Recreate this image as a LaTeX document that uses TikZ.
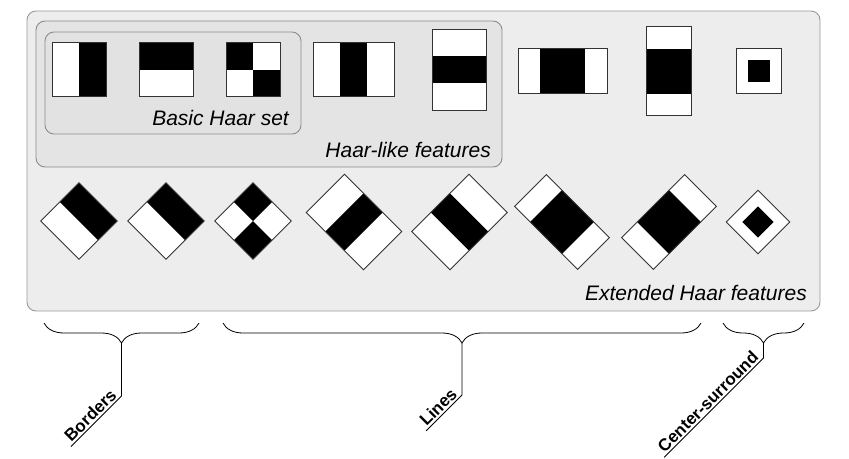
\documentclass[tikz,border=0pt]{standalone}
\usepackage{fontspec}
\setmainfont{Liberation Sans}
\usepackage{tikz}
\usepackage{xcolor}
\usetikzlibrary{decorations.pathreplacing}

\definecolor{outerbg}{HTML}{EDEDED}
\definecolor{outerln}{HTML}{9A9A9A}
\definecolor{haarbg}{HTML}{E4E4E4}
\definecolor{basicbg}{HTML}{E2E2E2}
\definecolor{boxln}{HTML}{8C8C8C}

\tikzset{
  panel/.style={rounded corners=9pt, line width=0.9pt},
  featline/.style={draw=black!80, line width=0.9pt},
  caption/.style={font=\fontsize{21}{25}\selectfont\itshape, inner sep=0pt},
  grouplabel/.style={font=\fontsize{17}{20}\selectfont\bfseries, rotate=45,
    inner xsep=3pt, inner ysep=2pt},
  groupbrace/.style={decorate, decoration={brace, mirror, amplitude=20pt},
    line width=0.8pt}
}

% white half left, black half right
\newcommand{\edgefeat}{
  \fill[white] (-27,-27) rectangle (27,27);
  \fill[black] (0,-27) rectangle (27,27);
  \draw[featline] (-27,-27) rectangle (27,27);
}
% four squares, black top left and bottom right
\newcommand{\checkfeat}{
  \fill[white] (-27,-27) rectangle (27,27);
  \fill[black] (-27,-27) rectangle (0,0);
  \fill[black] (0,0) rectangle (27,27);
  \draw[featline] (-27,-27) rectangle (27,27);
}
% three stripes: half width, half height, half black width
\newcommand{\linefeat}[3]{
  \fill[white] (-#1,-#2) rectangle (#1,#2);
  \fill[black] (-#3,-#2) rectangle (#3,#2);
  \draw[featline] (-#1,-#2) rectangle (#1,#2);
}
% black square in a white square
\newcommand{\centerfeat}{
  \fill[white] (-22.5,-22.5) rectangle (22.5,22.5);
  \fill[black] (-11,-11) rectangle (11,11);
  \draw[featline] (-22.5,-22.5) rectangle (22.5,22.5);
}

\begin{document}
\begin{tikzpicture}[x=1pt, y=-1pt]
  \useasboundingbox (0,0) rectangle (849,458);

  % Panels
  \draw[panel, fill=outerbg, draw=outerln] (27,11) rectangle (820,311);
  \draw[panel, fill=haarbg, draw=boxln] (36,21) rectangle (502,167);
  \draw[panel, fill=basicbg, draw=boxln] (45,32) rectangle (301,134);

  % Upright features
  \begin{scope}[shift={(79,69.5)}] \edgefeat \end{scope}
  \begin{scope}[shift={(166,69.5)}, rotate=90] \edgefeat \end{scope}
  \begin{scope}[shift={(253,69.5)}] \checkfeat \end{scope}
  \begin{scope}[shift={(353.5,69.5)}] \linefeat{40.5}{27}{13.5} \end{scope}
  \begin{scope}[shift={(459.5,69.5)}, rotate=90] \linefeat{40.5}{27}{13.5} \end{scope}
  \begin{scope}[shift={(562.5,70.5)}] \linefeat{44.5}{22.5}{22.5} \end{scope}
  \begin{scope}[shift={(668.5,71)}, rotate=90] \linefeat{44.5}{22.5}{22.5} \end{scope}
  \begin{scope}[shift={(758.5,70.5)}] \centerfeat \end{scope}

  % Rotated features
  \begin{scope}[shift={(79,221)}, rotate=45] \edgefeat \end{scope}
  \begin{scope}[shift={(166,221)}, rotate=45] \edgefeat \end{scope}
  \begin{scope}[shift={(253,221)}, rotate=-45] \checkfeat \end{scope}
  \begin{scope}[shift={(354,222)}, rotate=-45] \linefeat{40.5}{27}{13.5} \end{scope}
  \begin{scope}[shift={(459.5,222)}, rotate=45] \linefeat{40.5}{27}{13.5} \end{scope}
  \begin{scope}[shift={(562,222)}, rotate=-45] \linefeat{44.5}{22.5}{22.5} \end{scope}
  \begin{scope}[shift={(669,222)}, rotate=45] \linefeat{44.5}{22.5}{22.5} \end{scope}
  \begin{scope}[shift={(758,222)}, rotate=45] \centerfeat \end{scope}

  % Captions
  \node[caption, anchor=base east] (basic) at (289,125) {Basic Haar set};
  \node[caption, anchor=base east] (haarlike) at (491,157) {Haar-like features};
  \node[caption, anchor=base east] (extended) at (807,300) {Extended Haar features};

  % Braces
  \coordinate (bordersL) at (44,323);
  \coordinate (bordersR) at (199,323);
  \coordinate (bordersTip) at (121.5,343);
  \coordinate (linesL) at (223,323);
  \coordinate (linesR) at (701,323);
  \coordinate (linesTip) at (462,343);
  \coordinate (centerL) at (723,323);
  \coordinate (centerR) at (804,323);
  \coordinate (centerTip) at (763.5,343);
  \draw[groupbrace] (bordersL) -- (bordersR);
  \draw[groupbrace] (linesL) -- (linesR);
  \draw[groupbrace] (centerL) -- (centerR);

  % Group labels
  \node[grouplabel, anchor=south east] (borders) at (121.5,396) {Borders};
  \node[grouplabel, anchor=south east] (lines) at (462,395) {Lines};
  \node[grouplabel, anchor=south east] (center) at (763.5,358) {Center-surround};
  \draw[line width=0.8pt] (bordersTip) -- (borders.south east) -- (borders.south west);
  \draw[line width=0.8pt] (linesTip) -- (lines.south east) -- (lines.south west);
  \draw[line width=0.8pt] (centerTip) -- (center.south east) -- (center.south west);
\end{tikzpicture}
\end{document}
